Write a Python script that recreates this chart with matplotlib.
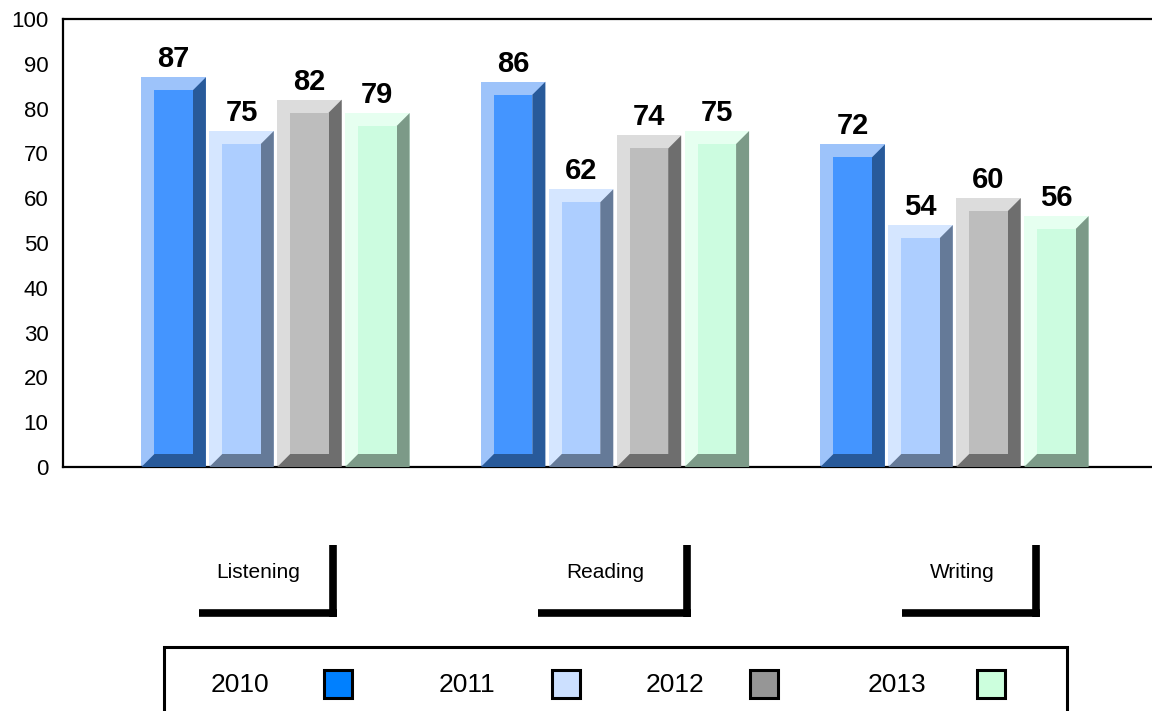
import matplotlib
matplotlib.use("Agg")
import matplotlib.pyplot as plt
from matplotlib.patches import Polygon, Rectangle
from matplotlib.lines import Line2D
import numpy as np

plt.rcParams['font.family'] = ['Liberation Sans', 'DejaVu Sans']

categories = ["Listening", "Reading", "Writing"]
years = ["2010", "2011", "2012", "2013"]
values = {
    "2010": [87, 86, 72],
    "2011": [75, 62, 54],
    "2012": [82, 74, 60],
    "2013": [79, 75, 56],
}
yticks = [0, 10, 20, 30, 40, 50, 60, 70, 80, 90, 100]

# bevel colours: (light edge, face, dark edge), legend swatch
light_cols = ["#9DC3FA", "#D5E6FF", "#DCDCDC", "#E6FFF0"]
face_cols = ["#4495FF", "#ADCEFF", "#BDBDBD", "#CCFCE0"]
dark_cols = ["#285A9A", "#657A98", "#6E6E6E", "#7C9A88"]
legend_cols = ["#0080FF", "#CCE0FF", "#969696", "#CCFFDD"]

W, H = 1152, 711
fig = plt.figure(figsize=(W / 100, H / 100), dpi=100)
ax = fig.add_axes([63 / W, 1 - 467 / H, (W - 63) / W, (467 - 19) / H])

xlim = (-0.6259, -0.6259 + (W - 63) / 339.5)
ax.set_xlim(*xlim)
ax.set_ylim(0, 100)

x = np.arange(len(categories))
offsets = [-0.3, -0.1, 0.1, 0.3]
bw = 0.19
# bevel size in data units (13 px)
bh = 13 / 339.5
bv = 13 / 4.48

for i, yr in enumerate(years):
    vals = values[yr]
    xs = x + offsets[i]
    # outer (light) bar
    ax.bar(xs, vals, width=bw, color=light_cols[i], linewidth=0, zorder=2)
    for xc, v in zip(xs, vals):
        x0, x1 = xc - bw / 2, xc + bw / 2
        poly = Polygon([(x0, 0), (x1, 0), (x1, v), (x1 - bh, v - bv),
                        (x1 - bh, bv), (x0 + bh, bv)],
                       closed=True, facecolor=dark_cols[i], edgecolor='none', zorder=3)
        ax.add_patch(poly)
        ax.annotate(f"{v}", (xc, v), xytext=(0, 10), textcoords='offset pixels',
                    ha='center', va='baseline', fontsize=21, fontweight='bold',
                    color='black', zorder=5)
    # inner face
    ax.bar(xs, np.array(vals) - 2 * bv, bottom=bv, width=bw - 2 * bh,
           color=face_cols[i], linewidth=0, zorder=4)

ax.set_yticks(yticks)
ax.set_yticklabels([str(t) for t in yticks], fontsize=16)
ax.tick_params(axis='y', length=0, pad=10.5)
ax.set_xticks([])
for s in ['left', 'top', 'bottom']:
    ax.spines[s].set_linewidth(1.6)
    ax.spines[s].set_color('black')
ax.spines['right'].set_visible(False)


def fx(px):
    return px / W


def fy(py):
    return 1 - py / H


# category brackets (Excel-style label boxes)
brackets = [(199, 333), (538, 687), (902, 1036)]
label_x = [258, 605, 962]
for cat, (hx0, vx), lx in zip(categories, brackets, label_x):
    fig.add_artist(Line2D([fx(hx0), fx(vx + 4)], [fy(613), fy(613)],
                          color='black', lw=5.5, solid_capstyle='butt'))
    fig.add_artist(Line2D([fx(vx), fx(vx)], [fy(545), fy(617)],
                          color='black', lw=5.5, solid_capstyle='butt'))
    fig.text(fx(lx), fy(573), cat, ha='center', va='center', fontsize=15)

# legend box
fig.add_artist(Line2D([fx(164), fx(164), fx(1067), fx(1067)],
                      [fy(715), fy(647), fy(647), fy(715)],
                      color='black', lw=2.2, solid_joinstyle='miter'))
leg_text_x = [240, 467, 675, 897]
leg_box_x = [324, 552, 750, 977]
for yr, tx, bx, c in zip(years, leg_text_x, leg_box_x, legend_cols):
    fig.text(fx(tx), fy(685), yr, ha='center', va='center', fontsize=19)
    fig.add_artist(Rectangle((fx(bx), fy(698)), 28 / W, 28 / H,
                             facecolor=c, edgecolor='black', lw=2.2,
                             transform=fig.transFigure))

fig.savefig("out.png", dpi=100)
